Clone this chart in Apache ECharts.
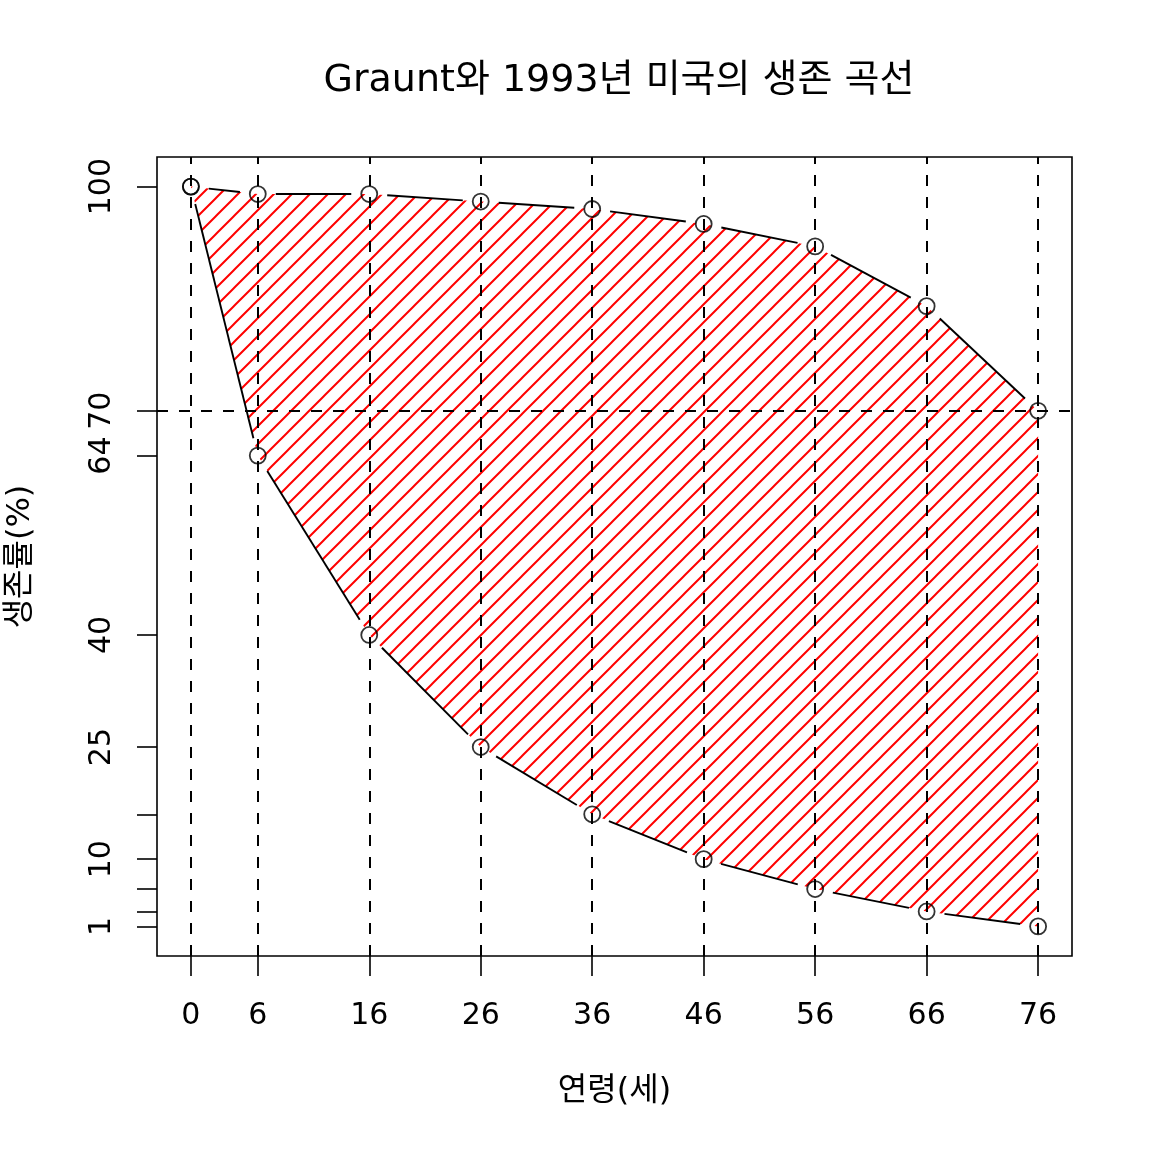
<!DOCTYPE html>
<html>
<head>
<meta charset="utf-8">
<script src="https://cdn.jsdelivr.net/npm/echarts@6/dist/echarts.min.js"></script>
<style>html,body{margin:0;padding:0;background:#fff}#c{width:1152px;height:1152px}</style>
</head>
<body>
<div id="c"></div>
<script>
// ---- data ----
const ages = [0, 6, 16, 26, 36, 46, 56, 66, 76];
const graunt = [100, 64, 40, 25, 16, 10, 6, 3, 1];
const us1993 = [100, 99, 99, 98, 97, 95, 92, 84, 70];
const xTicks = [0, 6, 16, 26, 36, 46, 56, 66, 76];
const yTicks = [1, 3, 6, 10, 16, 25, 40, 64, 70, 100];
const yLabels = [1, 10, 25, 40, 64, 70, 100];
const hLine = [70];
const titleText = 'Graunt와 1993년 미국의 생존 곡선';
const xName = '연령(세)';
const yName = '생존률(%)';

const FONT = '"DejaVu Sans", "Noto Sans CJK KR", sans-serif';

// hatch pattern tile
function makeHatch(size, color, width) {
  const c = document.createElement('canvas');
  c.width = size; c.height = size;
  const g = c.getContext('2d');
  g.strokeStyle = color; g.lineWidth = width;
  g.beginPath();
  g.moveTo(-2, size + 2); g.lineTo(size + 2, -2);
  g.moveTo(-2, 2); g.lineTo(2, -2);
  g.moveTo(size - 2, size + 2); g.lineTo(size + 2, size - 2);
  g.stroke();
  return c;
}
const hatch = makeHatch(18, '#ff0000', 2);

const chart = echarts.init(document.getElementById('c'));

function gapLineItem(xs, ys) {
  return function (params, api) {
    const i = params.dataIndex;
    if (i === 0) return null;
    const p0 = api.coord([xs[i - 1], ys[i - 1]]);
    const p1 = api.coord([xs[i], ys[i]]);
    const dx = p1[0] - p0[0], dy = p1[1] - p0[1];
    const L = Math.sqrt(dx * dx + dy * dy);
    const gap = 18;
    if (L <= 2 * gap) return null;
    const ux = dx / L, uy = dy / L;
    return {
      type: 'line',
      shape: { x1: p0[0] + ux * gap, y1: p0[1] + uy * gap, x2: p1[0] - ux * gap, y2: p1[1] - uy * gap },
      style: { stroke: '#000', lineWidth: 1.9 }
    };
  };
}

const option = {
  animation: false,
  backgroundColor: '#fff',
  title: {
    text: titleText, left: 614, textAlign: 'center', top: 57,
    textStyle: { fontFamily: FONT, fontSize: 38, fontWeight: 'normal', color: '#000' }
  },
  grid: { left: 157, right: 80, top: 157, bottom: 196, containLabel: false, outerBoundsMode: 'none',
          show: true, borderColor: '#000', borderWidth: 1.6, backgroundColor: 'transparent' },
  xAxis: {
    type: 'value', min: -3.04, max: 79.04,
    name: xName, nameLocation: 'middle', nameGap: 120, nameMoveOverlap: false,
    nameTextStyle: { fontFamily: FONT, fontSize: 32, color: '#000' },
    axisLine: { show: false, onZero: false },
    splitLine: { show: false },
    axisTick: { show: true, customValues: xTicks, length: 20, lineStyle: { color: '#000', width: 1.6 } },
    axisLabel: { customValues: xTicks, margin: 60, fontFamily: FONT, fontSize: 30, color: '#000', verticalAlign: 'middle' }
  },
  yAxis: {
    type: 'value', min: -2.96, max: 103.96,
    name: yName, nameLocation: 'middle', nameGap: 120, nameRotate: 90, nameMoveOverlap: false,
    nameTextStyle: { fontFamily: FONT, fontSize: 32, color: '#000' },
    axisLine: { show: false, onZero: false },
    splitLine: { show: false },
    axisTick: { show: true, customValues: yTicks, length: 20, lineStyle: { color: '#000', width: 1.6 } },
    axisLabel: { customValues: yLabels, rotate: 90, margin: 40, fontFamily: FONT, fontSize: 30, color: '#000' }
  },
  series: [
    {
      type: 'custom', z: 1, silent: true,
      data: [[ages[0], us1993[0]]],
      renderItem: function (params, api) {
        const pts = [];
        for (let i = 0; i < ages.length; i++) pts.push(api.coord([ages[i], us1993[i]]));
        for (let i = ages.length - 1; i >= 0; i--) pts.push(api.coord([ages[i], graunt[i]]));
        return {
          type: 'polygon',
          shape: { points: pts },
          style: { fill: { image: hatch, repeat: 'repeat' }, stroke: null }
        };
      }
    },
    {
      type: 'line', z: 2, silent: true, data: [],
      markLine: {
        silent: true, symbol: 'none', label: { show: false },
        lineStyle: { color: '#000', width: 2, type: [11, 11] },
        data: xTicks.map(v => ({ xAxis: v })).concat(hLine.map(v => ({ yAxis: v })))
      }
    },
    {
      type: 'custom', z: 3, silent: true,
      data: ages.map((a, i) => [a, us1993[i]]),
      renderItem: gapLineItem(ages, us1993)
    },
    {
      type: 'custom', z: 3, silent: true,
      data: ages.map((a, i) => [a, graunt[i]]),
      renderItem: gapLineItem(ages, graunt)
    },
    {
      type: 'scatter', z: 4, silent: true, symbol: 'circle', symbolSize: 16,
      itemStyle: { color: 'rgba(0,0,0,0)', borderColor: '#000', borderWidth: 1.8 },
      data: ages.map((a, i) => [a, us1993[i]])
    },
    {
      type: 'scatter', z: 4, silent: true, symbol: 'circle', symbolSize: 16,
      itemStyle: { color: 'rgba(0,0,0,0)', borderColor: '#000', borderWidth: 1.8 },
      data: ages.map((a, i) => [a, graunt[i]])
    }
  ]
};
chart.setOption(option);
</script>
</body>
</html>
